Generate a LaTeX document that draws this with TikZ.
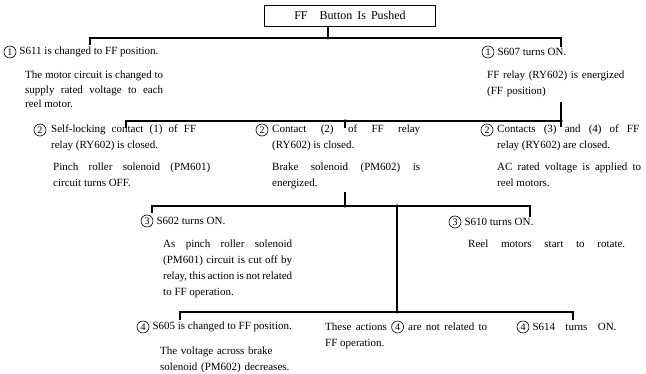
\documentclass[tikz,border=0pt]{standalone}
\usepackage{fontspec}
\setmainfont{Liberation Serif}
\usetikzlibrary{positioning}

\newcommand{\circnum}[1]{\tikz[baseline=(c.base)]\node[draw, circle, line width=0.6pt, inner sep=0pt,
  minimum size=12pt, font=\fontsize{10}{10}\selectfont] (c) {#1};}

\begin{document}
\begin{tikzpicture}[x=1pt, y=-1pt,
  txt/.style={font=\fontsize{11}{16}\selectfont, inner sep=0pt},
  num/.style={draw, circle, line width=0.6pt, inner sep=0pt, minimum size=12pt,
    font=\fontsize{10}{10}\selectfont},
  head/.style={txt, anchor=west},
  para/.style={txt, anchor=north west, text width=#1, align=justify},
  link/.style={line width=1.1pt},
  dot/.style={circle, fill, inner sep=0pt, minimum size=3.5pt}
]
  \useasboundingbox (0,0) rectangle (646,374);

  \node[draw, line width=0.6pt, txt, font=\fontsize{12}{14}\selectfont,
    minimum width=171pt, minimum height=21pt] (title)
    at (350,15.5) {FF\quad Button\ \,Is\ \,Pushed};

  % level 1
  \node[num] (n611) at (10,52) {1};
  \node[head, right=3pt of n611] (h611) {S611 is changed to FF position.};
  \node[para=138pt, font=\fontsize{11}{14.5}\selectfont] (b611) at (25,71)
    {The motor circuit is changed to\linebreak supply rated voltage to each\linebreak reel motor.};

  \node[num] (n607) at (488,52) {1};
  \node[head, right=3pt of n607] (h607) {S607 turns ON.};
  \node[para=156pt, align=left] (b607) at (487,70.5) {FF relay (RY602) is energized\\(FF position)};

  % level 2
  \node[num] (n2a) at (40,130) {2};
  \node[para=145pt] (h2a) at (51,124.5) {Self-locking contact (1) of FF\linebreak relay (RY602) is closed.};
  \node[para=157pt] (b2a) at (53,162.5) {Pinch roller solenoid (PM601)\linebreak circuit turns OFF.};

  \node[num] (n2b) at (262,130) {2};
  \node[para=148pt] (h2b) at (272,124.5) {Contact (2) of FF relay\linebreak (RY602) is closed.};
  \node[para=148pt] (b2b) at (272,162.5) {Brake solenoid (PM602) is\linebreak energized.};

  \node[num] (n2c) at (487,130) {2};
  \node[para=142pt] (h2c) at (497,124.5) {Contacts (3) and (4) of FF\linebreak relay (RY602) are closed.};
  \node[para=144pt] (b2c) at (497,162.5) {AC rated voltage is applied to\linebreak reel motors.};

  % level 3
  \node[num] (n3a) at (147,221) {3};
  \node[head, right=3pt of n3a] (h3a) {S602 turns ON.};
  \node[para=129pt] (b3a) at (163,239.5)
    {As pinch roller solenoid\linebreak (PM601) circuit is cut off by\linebreak relay, this action is not related\linebreak to FF operation.};

  \node[num] (n3b) at (455,222) {3};
  \node[head, right=3pt of n3b] (h3b) {S610 turns ON.};
  \node[txt, anchor=north west] (b3b) at (468,240) {\makebox[157pt][s]{Reel motors start to rotate.}};

  % level 4
  \node[num] (n4a) at (143,327) {4};
  \node[head, right=3pt of n4a] (h4a) {S605 is changed to FF position.};
  \node[para=140pt, align=left] (b4a) at (160,346.5) {The voltage across brake\\solenoid (PM602) decreases.};

  \node[para=162pt] (b4b) at (325,320.5) {These actions \circnum{4} are not related to\linebreak FF operation.};

  \node[num] (n4c) at (523,327) {4};
  \node[head, right=3pt of n4c] (h4c) {\makebox[84pt][s]{S614 turns ON.}};

  % connectors
  \coordinate (j1) at (328,38);
  \coordinate (d611) at (90,45);
  \coordinate (d607) at (561,47);
  \draw[link] (title.south -| j1) -- (j1);
  \draw[link] (d611) |- (j1) -| (d607);
  \node[dot] at (j1) {};

  \coordinate (j2) at (561,121);
  \coordinate (d2a) at (126,128);
  \coordinate (d2b) at (345,128);
  \coordinate (d2c) at (561,127);
  \draw[link] ([yshift=-5pt]b607.south -| j2) -- (j2);
  \draw[link] (d2a) |- (j2) -- (d2c);
  \draw[link] (d2b |- j2) -- (d2b);
  \node[dot] at (j2) {};
  \node[dot] at (d2b |- j2) {};

  \coordinate (j3) at (345,206);
  \coordinate (d3a) at (152,213);
  \coordinate (d3b) at (530,217);
  \coordinate (j4) at (397,206);
  \coordinate (j5) at (397,312);
  \draw[link] ([yshift=-3pt]b2b.south -| j3) -- (j3);
  \draw[link] (d3a) |- (j3) -| (d3b);
  \draw[link] (j4) -- (j5);
  \node[dot] at (j3) {};
  \node[dot] at (j4) {};

  \coordinate (d4a) at (180,320);
  \coordinate (d4c) at (573,320);
  \draw[link] (d4a) |- (j5) -| (d4c);
  \node[dot] at (j5) {};
\end{tikzpicture}
\end{document}
